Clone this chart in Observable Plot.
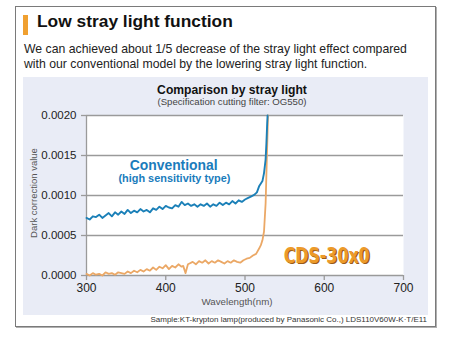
<!DOCTYPE html>
<html>
<head>
<meta charset="utf-8">
<script src="https://cdn.jsdelivr.net/npm/d3@7"></script>
<script src="https://cdn.jsdelivr.net/npm/@observablehq/plot@0.6"></script>
<style>
  html, body { margin: 0; padding: 0; background: #fff; }
  body { width: 462px; height: 337px; position: relative; overflow: hidden;
         font-family: "Liberation Sans", Arial, Helvetica, sans-serif; color: #222; }
  .abs { position: absolute; white-space: nowrap; }
  #box { left: 15px; top: 6px; width: 419px; height: 319px; border: 1px solid #7a7a7a;
         box-shadow: 1px 1px 0 #b0b0b0; }
  #bar { left: 23px; top: 15px; width: 5px; height: 20px; background: #f0a030; }
  #title { left: 37px; top: 11px; font-size: 17px; font-weight: bold; color: #111; }
  #desc { left: 24px; top: 42px; font-size: 12.5px; line-height: 15px; color: #222; }
  #panel { left: 23px; top: 77px; width: 405px; height: 238px; background: #e9ecf6; }
  #ctitle { left: 232px; top: 83px; transform: translateX(-50%); font-size: 11.5px; font-weight: bold; color: #111; }
  #csub { left: 232px; top: 96px; transform: translateX(-50%); font-size: 9.3px; color: #444; }
  #xlabel { left: 237px; top: 296px; transform: translateX(-50%); font-size: 10px; color: #555; }
  #ylabel { left: 33px; top: 193px; transform: translate(-50%, -50%) rotate(-90deg); font-size: 9.5px; color: #555; }
  #caption { right: 35px; top: 315px; font-size: 9px; color: #333; }
  #chart { position: absolute; left: 0; top: 0; }
</style>
</head>
<body>
<div class="abs" id="box"></div>
<div class="abs" id="bar"></div>
<div class="abs" id="title">Low stray light function</div>
<div class="abs" id="desc">We can achieved about 1/5 decrease of the stray light effect compared<br>with our conventional model by the lowering stray light function.</div>
<div class="abs" id="panel"></div>
<div class="abs" id="ctitle">Comparison by stray light</div>
<div class="abs" id="csub">(Specification cutting filter: OG550)</div>
<div class="abs" id="xlabel">Wavelength(nm)</div>
<div class="abs" id="ylabel">Dark correction value</div>
<div class="abs" id="caption">Sample:KT-krypton lamp(produced by Panasonic Co.,) LDS110V60W-K·T/E11</div>
<div id="chart"></div>
<script>
// Conventional (high sensitivity type)
const convWl = [300,304,308,312,316,320,324,328,332,336,340,344,348,352,356,360,364,368,372,376,380,384,388,392,396,400,404,408,412,416,420,424,428,432,436,440,444,448,452,456,460,464,468,472,476,480,484,488,492,496,500,504,508,512,515,518,520,522,524,526,527,528,528.5];
const convVal = [0.00072,0.00070,0.00074,0.00073,0.00076,0.00072,0.00075,0.00078,0.00074,0.00079,0.00076,0.00080,0.00077,0.00082,0.00078,0.00081,0.00079,0.00083,0.00080,0.00082,0.00079,0.00084,0.00082,0.00086,0.00083,0.00087,0.00085,0.00084,0.00088,0.00086,0.00092,0.00088,0.00090,0.00087,0.00089,0.00086,0.00089,0.00087,0.00090,0.00086,0.00089,0.00087,0.00091,0.00088,0.00091,0.00089,0.00093,0.00090,0.00094,0.00092,0.00095,0.00097,0.00099,0.00101,0.00104,0.00112,0.00115,0.00118,0.00128,0.00145,0.00165,0.00190,0.00200];
// CDS-30x0
const cdsWl = [300,304,308,312,316,320,324,328,332,336,340,344,348,352,356,360,364,368,372,376,380,384,388,392,396,400,404,408,412,416,420,422,425,428,430,434,438,442,446,450,454,458,462,466,470,474,478,482,486,490,494,498,502,506,510,514,518,520,522,524,526,527.5,528.5,529];
const cdsVal = [0.00002,0.00000,0.00003,0.00001,0.00002,0.00000,0.00004,0.00002,0.00003,0.00001,0.00004,0.00003,0.00002,0.00005,0.00003,0.00006,0.00004,0.00007,0.00005,0.00008,0.00006,0.00010,0.00007,0.00011,0.00009,0.00013,0.00008,0.00012,0.00010,0.00014,0.00011,0.00012,0.00003,0.00014,0.00015,0.00017,0.00014,0.00018,0.00016,0.00019,0.00015,0.00018,0.00016,0.00019,0.00017,0.00015,0.00018,0.00016,0.00019,0.00017,0.00016,0.00019,0.00021,0.00022,0.00025,0.00027,0.00034,0.00038,0.00044,0.00055,0.00090,0.00144,0.00180,0.00200];
const xTicks = [300,400,500,600,700];
const yTicks = [0.0000,0.0005,0.0010,0.0015,0.0020];

const conv = convWl.map((w,i) => ({wl: w, v: convVal[i]}));
const cds = cdsWl.map((w,i) => ({wl: w, v: cdsVal[i]}));

const chart = Plot.plot({
  width: 462, height: 337,
  marginLeft: 86, marginRight: 59, marginTop: 115, marginBottom: 62,
  style: {background: "transparent", fontFamily: "'Liberation Sans', Arial, sans-serif", color: "#222"},
  x: {domain: [300,700]},
  y: {domain: [0,0.002]},
  marks: [
    Plot.frame({fill: "white", stroke: null}),
    Plot.gridY(yTicks, {stroke: "#9a9a9a", strokeOpacity: 1, strokeWidth: 1.3, x1: 300, x2: 700}),
    Plot.ruleX([300], {stroke: "#9a9a9a", strokeWidth: 1.3}),
    Plot.axisY(yTicks, {tickSize: 5, tickPadding: 5, tickFormat: d => d.toFixed(4), fontSize: 11.5, stroke: "#9a9a9a", strokeWidth: 1.3, label: null}),
    Plot.axisX(xTicks, {tickSize: 5, tickPadding: 3, fontSize: 12, stroke: "#9a9a9a", strokeWidth: 1.3, label: null}),
    Plot.line(cds, {x: "wl", y: "v", stroke: "#eba866", strokeWidth: 1.8}),
    Plot.line(conv, {x: "wl", y: "v", stroke: "#1b80b8", strokeWidth: 1.9}),
    Plot.text(["Conventional"], {x: 410, y: 0.001369, text: d => d, fontSize: 14, fontWeight: "bold", fill: "#1a7cbc", className: "conv1"}),
    Plot.text(["(high sensitivity type)"], {x: 411, y: 0.00121, text: d => d, fontSize: 10.3, fontWeight: "bold", fill: "#1a7cbc", className: "conv2"}),
    Plot.text(["CDS-30x0"], {x: 603, y: 0.00025, dx: 1.2, dy: 1.2, text: d => d, fontSize: 22, fontWeight: "bold", fill: "#9a5c18", className: "cds"}),
    Plot.text(["CDS-30x0"], {x: 603, y: 0.00025, text: d => d, fontSize: 22, fontWeight: "bold", fill: "#ec9a2a", className: "cds"})
  ]
});
document.getElementById("chart").appendChild(chart);
d3.select(chart).selectAll("g.cds text")
  .attr("textLength", 86).attr("lengthAdjust", "spacingAndGlyphs")
  .style("font-family", "'Liberation Sans Narrow', 'DejaVu Sans Condensed', 'Liberation Sans', sans-serif");
d3.select(chart).selectAll("g.conv1 text").attr("textLength", 88).attr("lengthAdjust", "spacingAndGlyphs");
d3.select(chart).selectAll("g.conv2 text").attr("textLength", 112).attr("lengthAdjust", "spacingAndGlyphs");

// fit HTML text widths to the reference widths
function fit(id, target) {
  const el = document.getElementById(id);
  const w = el.getBoundingClientRect().width;
  const fs = parseFloat(getComputedStyle(el).fontSize);
  if (w > 0) el.style.fontSize = (fs * target / w) + "px";
}
fit("title", 196);
fit("desc", 383);
fit("ctitle", 150);
fit("csub", 149);
fit("caption", 277);
fit("xlabel", 71);
</script>
</body>
</html>
